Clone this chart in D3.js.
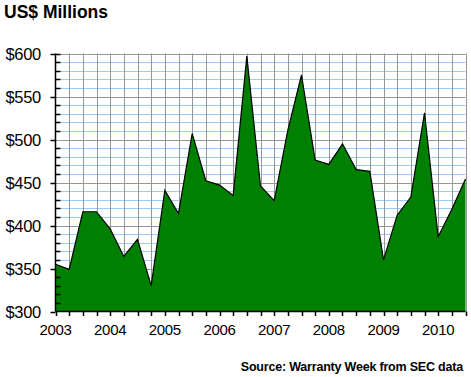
<!DOCTYPE html>
<html>
<head>
<meta charset="utf-8">
<script src="https://cdn.jsdelivr.net/npm/d3@7"></script>
<style>
  body { margin: 0; background: #fff; }
  text { font-family: "Liberation Sans", Arial, sans-serif; }
</style>
</head>
<body>
<svg id="chart" width="471" height="377"></svg>
<script>
// quarterly warranty accruals, 2003 Q1 .. 2010 Q3
const quarters = d3.range(0, 31).map(i => 2003 + i / 4);
const values = [355, 349, 416, 416, 396, 364, 384, 330,
                441, 414, 507, 452, 447, 435, 597, 446,
                429, 511, 575, 476, 471, 495, 465, 463,
                360, 412, 433, 531, 387, 419, 454];
const yearLabels = ["2003", "2004", "2005", "2006", "2007", "2008", "2009", "2010"];
const yTicks = [300, 350, 400, 450, 500, 550, 600];

const svg = d3.select("#chart");

const plot = { left: 55.5, right: 465.5, top: 53.5, bottom: 311.5 };

const x = d3.scaleLinear()
  .domain([2003, 2010.5])
  .range([plot.left, plot.right]);

const y = d3.scaleLinear()
  .domain([300, 600])
  .range([plot.bottom, plot.top]);

const snap = v => Math.round(v) + 0.5;

// minor horizontal grid every $10
const minor = d3.range(310, 600, 10).filter(v => v % 50 !== 0);
svg.append("g")
  .selectAll("line")
  .data(minor)
  .join("line")
  .attr("x1", plot.left).attr("x2", plot.right)
  .attr("y1", d => snap(y(d)))
  .attr("y2", d => snap(y(d)))
  .attr("stroke", "#99ccff");

// major horizontal grid every $50
svg.append("g")
  .selectAll("line")
  .data(yTicks.filter(v => v > 300))
  .join("line")
  .attr("x1", plot.left).attr("x2", plot.right)
  .attr("y1", d => snap(y(d)))
  .attr("y2", d => snap(y(d)))
  .attr("stroke", "#969696");

// vertical grid every quarter
svg.append("g")
  .selectAll("line")
  .data(quarters.slice(1))
  .join("line")
  .attr("x1", d => snap(x(d)))
  .attr("x2", d => snap(x(d)))
  .attr("y1", plot.top).attr("y2", plot.bottom)
  .attr("stroke", "#969696");

// filled area
const area = d3.area()
  .x((d, i) => x(quarters[i]))
  .y0(y(300))
  .y1(d => y(d));

svg.append("path")
  .datum(values)
  .attr("d", area)
  .attr("fill", "#008000");

const line = d3.line()
  .x((d, i) => x(quarters[i]))
  .y(d => y(d));

svg.append("path")
  .datum(values)
  .attr("d", line)
  .attr("fill", "none")
  .attr("stroke", "#000")
  .attr("stroke-width", 1.2);

// axes lines
svg.append("line")
  .attr("x1", plot.left).attr("x2", plot.left)
  .attr("y1", plot.top).attr("y2", plot.bottom)
  .attr("stroke", "#000").attr("stroke-width", 1.5);

svg.append("line")
  .attr("x1", plot.left).attr("x2", plot.right)
  .attr("y1", plot.bottom).attr("y2", plot.bottom)
  .attr("stroke", "#000").attr("stroke-width", 1.5);

// y ticks
svg.append("g")
  .selectAll("line")
  .data(yTicks)
  .join("line")
  .attr("x1", plot.left - 5).attr("x2", plot.left)
  .attr("y1", d => snap(y(d)))
  .attr("y2", d => snap(y(d)))
  .attr("stroke", "#000").attr("stroke-width", 1.5);

svg.append("g")
  .selectAll("line")
  .data(minor.concat([600]))
  .join("line")
  .attr("x1", plot.left).attr("x2", plot.left + 5)
  .attr("y1", d => snap(y(d)))
  .attr("y2", d => snap(y(d)))
  .attr("stroke", "#000").attr("stroke-width", 1.5);

svg.append("g")
  .selectAll("text")
  .data(yTicks)
  .join("text")
  .attr("x", 41)
  .attr("y", d => y(d) + 6)
  .attr("text-anchor", "end")
  .attr("font-size", "16.5px")
  .attr("letter-spacing", "-0.3px")
  .text(d => "$" + d);

// x ticks
svg.append("g")
  .selectAll("line")
  .data(quarters)
  .join("line")
  .attr("x1", d => snap(x(d)))
  .attr("x2", d => snap(x(d)))
  .attr("y1", plot.bottom).attr("y2", plot.bottom + 4.5)
  .attr("stroke", "#000").attr("stroke-width", 1.5);

svg.append("g")
  .selectAll("text")
  .data(yearLabels)
  .join("text")
  .attr("x", d => x(+d))
  .attr("y", 334.5)
  .attr("text-anchor", "middle")
  .attr("font-size", "15px")
  .attr("letter-spacing", "-0.3px")
  .text(d => d);

// titles
svg.append("text")
  .attr("x", 4)
  .attr("y", 17.5)
  .attr("font-size", "17.5px")
  .attr("font-weight", "bold")
  .text("US$ Millions");

svg.append("text")
  .attr("x", 463)
  .attr("y", 370.5)
  .attr("text-anchor", "end")
  .attr("font-size", "12.5px")
  .attr("font-weight", "bold")
  .attr("letter-spacing", "-0.2px")
  .text("Source: Warranty Week from SEC data");
</script>
</body>
</html>
